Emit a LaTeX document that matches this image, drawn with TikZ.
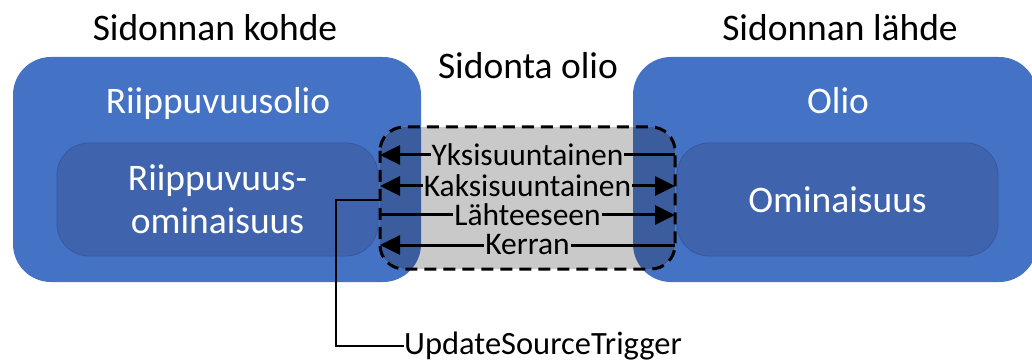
\documentclass[tikz,border=0pt]{standalone}
\usepackage{fontspec}
\setmainfont{Carlito}
\usetikzlibrary{arrows.meta}

\definecolor{objblue}{HTML}{4472C4}
\definecolor{propblue}{HTML}{3F64AD}
\definecolor{propedge}{HTML}{355A9E}
\definecolor{bindgray}{HTML}{C9C9C9}
\definecolor{shadeblue}{HTML}{3B5C9D}

\tikzset{
  objbox/.style={fill=objblue, draw=none, rounded corners=38pt, minimum height=225pt},
  propbox/.style={fill=propblue, draw=propedge, line width=0.8pt, rounded corners=32pt,
    minimum width=321pt, minimum height=113pt, text=white, align=center,
    font=\fontsize{37.5}{43}\selectfont},
  title/.style={anchor=base, inner sep=0pt, font=\fontsize{37.5}{44}\selectfont},
  objtext/.style={anchor=base, inner sep=0pt, text=white, font=\fontsize{37.5}{44}\selectfont},
  modeline/.style={line width=3pt, {Triangle[length=20pt,width=19pt]}-{Triangle[length=20pt,width=19pt]}},
  modelabel/.style={fill=bindgray, inner sep=1pt, font=\fontsize{31.5}{34}\selectfont},
  trigline/.style={line width=2pt},
}

\begin{document}
\begin{tikzpicture}[x=1pt, y=-1pt]
  \useasboundingbox (0,0) rectangle (1032,363);

  % target and source objects
  \node[objbox, minimum width=408pt] (kohde) at (217,169.5) {};
  \node[objbox, minimum width=404pt] (lahde) at (835,169.5) {};
  \node[objtext] (riippuvuusolio) at (218,114) {Riippuvuusolio};
  \node[objtext] (olio) at (838,114) {Olio};

  % their properties
  \node[propbox] (riippuvuusomin) at (217.5,199.5) {Riippuvuus-\\ominaisuus};
  \node[propbox] (ominaisuus) at (837.5,199.5) {Ominaisuus};

  % binding object: grey body, darker where it lies over the objects
  \node[fill=bindgray, rounded corners=24pt, minimum width=295pt, minimum height=142pt, inner sep=0pt]
    (sidonta) at (527.5,198) {};
  \begin{scope}
    \clip[rounded corners=24pt] (380,127) rectangle (675,269);
    \fill[shadeblue, rounded corners=38pt] (13,57) rectangle (421,282);
    \fill[shadeblue, rounded corners=38pt] (633,57) rectangle (1037,282);
  \end{scope}
  \draw[line width=3pt, dash pattern=on 12pt off 7pt, rounded corners=24pt]
    (380,127) rectangle (675,269);

  % titles
  \node[title] (tkohde) at (215,41) {Sidonnan kohde};
  \node[title] (tlahde) at (840,41) {Sidonnan lähde};
  \node[title] (tsidonta) at (528,79) {Sidonta olio};

  % binding modes
  \coordinate (yL) at (380,155);  \coordinate (yR) at (675,155);
  \coordinate (kL) at (380,186);  \coordinate (kR) at (675,186);
  \coordinate (lL) at (380,215);  \coordinate (lR) at (675,215);
  \coordinate (eL) at (380,245);  \coordinate (eR) at (675,245);

  \draw[modeline, -{Triangle[length=20pt,width=19pt]}] (yR) -- node[modelabel] (yksi) {Yksisuuntainen} (yL);
  \draw[modeline] (kL) -- node[modelabel] (kaksi) {Kaksisuuntainen} (kR);
  \draw[modeline, -{Triangle[length=20pt,width=19pt]}] (lL) -- node[modelabel] (lahteeseen) {Lähteeseen} (lR);
  \draw[modeline, -{Triangle[length=20pt,width=19pt]}] (eR) -- node[modelabel] (kerran) {Kerran} (eL);

  % update trigger callout
  \coordinate (trg) at (380,200);
  \node[anchor=west, inner sep=0pt, font=\fontsize{32.5}{38}\selectfont] (ust) at (404,346) {UpdateSourceTrigger};
  \draw[trigline] (ust.west) -| (336,200) -- (trg);
\end{tikzpicture}
\end{document}
